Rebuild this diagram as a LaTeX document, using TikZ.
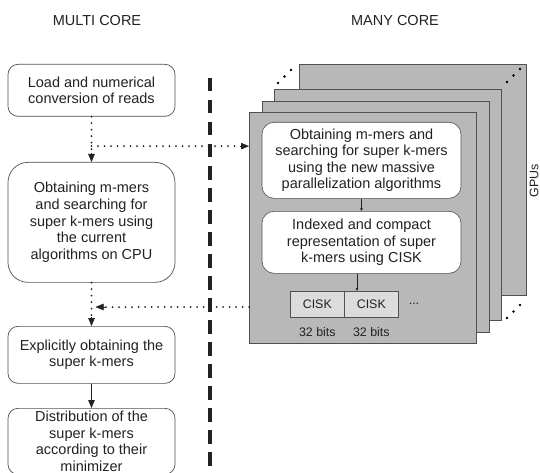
\documentclass[tikz,border=0pt]{standalone}
\usepackage{fontspec}
\setmainfont{Liberation Sans}
\usetikzlibrary{arrows.meta,calc}
\definecolor{panelgray}{HTML}{B8B8B8}
\definecolor{cellgray}{HTML}{DCDCDC}
\definecolor{edgegray}{HTML}{505050}
\definecolor{inkgray}{HTML}{222222}
\begin{document}
\begin{tikzpicture}[x=1pt,y=-1pt,
  txt/.style={font=\fontsize{14.5}{16.6}\selectfont, text=inkgray, align=center, inner sep=0pt},
  small/.style={font=\fontsize{12.4}{14}\selectfont, text=inkgray, inner sep=0pt},
  cpubox/.style={txt, draw=edgegray, line width=0.7pt, fill=white, rounded corners=10pt,
    minimum width=167pt, anchor=north},
  gpubox/.style={txt, draw=edgegray, line width=0.6pt, fill=white, rounded corners=12pt,
    minimum width=199pt, anchor=north},
  panel/.style={draw=edgegray, line width=0.9pt, fill=panelgray, minimum width=227pt,
    minimum height=231pt, anchor=north west, inner sep=0pt},
  cell/.style={small, draw=edgegray, line width=0.6pt, fill=cellgray, minimum width=54pt,
    minimum height=26pt, anchor=north west},
  dotline/.style={line width=2pt, dash pattern=on 0pt off 6.5pt, line cap=round, inkgray},
  tip/.style={-{Triangle[length=8pt,width=6.5pt]}},
  smalltip/.style={-{Triangle[length=3pt,width=2.5pt]}, line width=0.5pt, inkgray},
  gapdot/.style={circle, fill=black, inner sep=0pt, minimum size=2.6pt}
]
\clip (0,0) rectangle (540,473);
\fill[white] (0,0) rectangle (540,473);

% column titles
\node[txt] (tmulti) at (97,21) {MULTI CORE};
\node[txt] (tmany) at (395,21) {MANY CORE};

% CPU pipeline
\node[cpubox, minimum height=52pt] (load) at (91.5,64) {Load and numerical\\conversion of reads};
\node[cpubox, minimum height=120pt, rounded corners=20pt] (cpu) at (91.5,162)
  {Obtaining m-mers\\and searching for\\super k-mers using\\the current\\algorithms on CPU};
\node[cpubox, minimum height=57pt] (expl) at (91.5,326) {Explicitly obtaining the\\super k-mers};
\node[cpubox, minimum height=66pt] (distr) at (91.5,408)
  {Distribution of the\\super k-mers\\according to their\\minimizer};

% divider between CPU and GPU sides
\draw[line width=3.3pt, dash pattern=on 13.5pt off 8.5pt, inkgray] (210,78) -- (210,480);

% stack of GPU panels, back to front
\node[panel] (p4) at (299,64) {};
\node[panel] (p3) at (274,89) {};
\node[panel] (p2) at (262,101) {};
\node[panel] (p1) at (249,112) {};

% ellipsis dots between the stacked panels
\foreach \cx/\cy [count=\i] in {278/83, 284.5/76.5, 291/70} {
  \node[gapdot] (dl\i) at (\cx,\cy) {};
}
\foreach \cx/\cy [count=\i] in {507/82, 513.5/75.5, 520/69} {
  \node[gapdot] (dr\i) at (\cx,\cy) {};
}
\foreach \cx/\cy [count=\i] in {507/318, 513.5/311.5, 520/305} {
  \node[gapdot] (db\i) at (\cx,\cy) {};
}

\node[small, rotate=90] (gpus) at (534,181) {GPUs};

% front panel contents
\node[gpubox, minimum height=76pt] (gsearch) at (361.5,122)
  {Obtaining m-mers and\\searching for super k-mers\\using the new massive\\parallelization algorithms};
\node[gpubox, minimum height=62pt] (gindex) at (361.5,211)
  {Indexed and compact\\representation of super\\k-mers using CISK};
\node[cell] (c1) at (290,291) {CISK};
\node[cell] (c2) at (344,291) {CISK};
\node[small] (cdots) at (414,304) {...};
\node[small] (b1) at (c1.south) [yshift=-14pt] {32 bits};
\node[small] (b2) at (c2.south) [yshift=-14pt] {32 bits};

\draw[smalltip] (gsearch.south) -- (gindex.north);
\draw[smalltip] ([xshift=-4.5pt]gindex.south) -- ([xshift=-4.5pt]gindex.south |- c1.north);

% flow between CPU and GPU
\coordinate (split) at ($(load.south)!0.65!(cpu.north)$);
\draw[dotline] (load.south) -- ([yshift=8pt]cpu.north);
\draw[tip, inkgray] ([yshift=9pt]cpu.north) -- (cpu.north);
\draw[dotline] (split) -- ([xshift=-8pt]split -| p1.west);
\draw[tip, inkgray] ([xshift=-9pt]split -| p1.west) -- (split -| p1.west);

\coordinate (back) at (0,307);
\draw[dotline] (cpu.south) -- ([yshift=8pt]expl.north);
\draw[tip, inkgray] ([yshift=9pt]expl.north) -- (expl.north);
\draw[dotline] (back -| p1.west) -- ([xshift=12pt]back -| cpu.south);
\draw[tip, inkgray] ([xshift=13pt]back -| cpu.south) -- ([xshift=4pt]back -| cpu.south);

\draw[tip, line width=1.2pt, inkgray] (expl.south) -- (distr.north);
\end{tikzpicture}
\end{document}
